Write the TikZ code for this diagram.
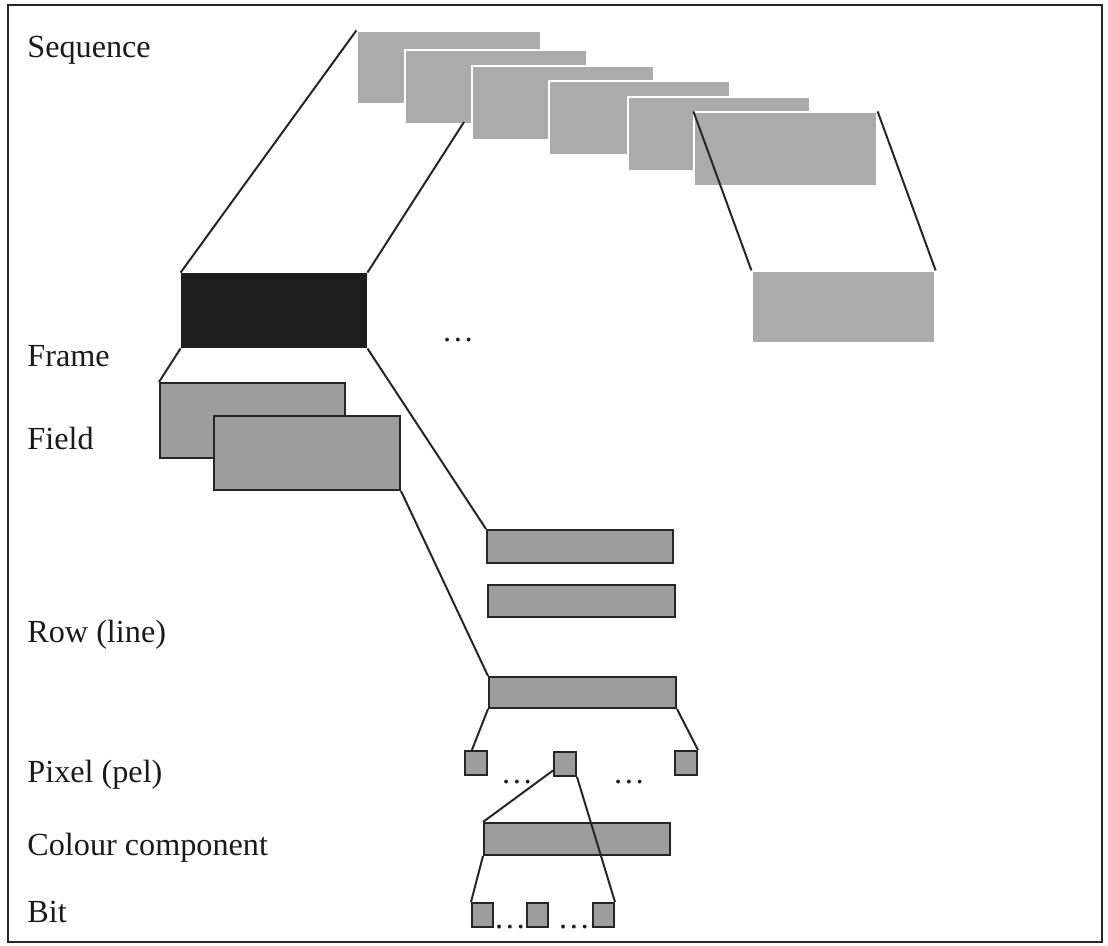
\documentclass[tikz,border=0pt]{standalone}
\usepackage{fontspec}
\setmainfont{Liberation Serif}
\usetikzlibrary{fit,calc}
\definecolor{seqgray}{HTML}{ABABAB}
\definecolor{boxgray}{HTML}{9D9D9D}
\definecolor{edge}{HTML}{262626}
\definecolor{framebk}{HTML}{1E1E1E}
\definecolor{txt}{HTML}{1A1A1A}

\begin{document}
\begin{tikzpicture}[x=0.5pt,y=-0.5pt,
  lbl/.style={anchor=base west, inner sep=0, text=txt, font=\fontsize{16.1}{19}\selectfont},
  dots/.style={anchor=base, inner sep=0, text=txt, font=\fontsize{16.1}{19}\selectfont},
  seqframe/.style={fill=seqgray, draw=white, line width=0.6pt, inner sep=0},
  keyframe/.style={fill=framebk, inner sep=0},
  part/.style={fill=boxgray, draw=edge, line width=1pt, inner sep=0},
  link/.style={draw=edge, line width=1pt},
]
\useasboundingbox (0,0) rectangle (1108,946);
\draw[edge, line width=1.1pt] (8,5) rectangle (1102,942);

% level labels
\node[lbl] (lseq) at (27,58)  {Sequence};
\node[lbl] (lfrm) at (27,367) {Frame};
\node[lbl] (lfld) at (27,450) {Field};
\node[lbl] (lrow) at (27,642) {Row (line)};
\node[lbl] (lpix) at (27,782) {Pixel (pel)};
\node[lbl] (lcol) at (27,855) {Colour component};
\node[lbl] (lbit) at (27,922) {Bit};

% the sequence of frames
\node[seqframe, fit={(357,31) (541,104)}]  (s1) {};
\node[seqframe, fit={(405,50) (587,124)}]  (s2) {};
\coordinate (s2end) at (464,122);
\node[keyframe, fit={(181,273) (367,348)}] (fr) {};
\draw[link] (fr.north east) -- (s2end);
\node[seqframe, fit={(472,66) (654,140)}]  (s3) {};
\node[seqframe, fit={(549,81) (730,155)}]  (s4) {};
\node[seqframe, fit={(628,97) (810,171)}]  (s5) {};
\node[seqframe, fit={(694,112) (877,186)}] (s6) {};
\node[seqframe, fit={(752,271) (935,343)}] (s7) {};

\draw[link] (s1.north west) -- (fr.north west);
\draw[link] (s6.north west) -- (s7.north west);
\draw[link] (s6.north east) -- (s7.north east);
\node[dots] (fdots) at (458,342) {…};

% fields
\node[part, fit={(160,383) (345,458)}] (fd1) {};
\node[part, fit={(214,416) (400,490)}] (fd2) {};
\draw[link] (fr.south west) -- (fd1.north west);

% rows
\node[part, fit={(487,530) (673,563)}] (r1) {};
\node[part, fit={(488,585) (675,617)}] (r2) {};
\node[part, fit={(489,677) (676,708)}] (r3) {};
\draw[link] (fr.south east) -- (r1.north west);
\draw[link] (fd2.south east) -- (r3.north west);

% pixels
\node[part, fit={(465,751) (487,775)}] (p1) {};
\node[part, fit={(554,752) (576,776)}] (p2) {};
\node[part, fit={(675,751) (697,775)}] (p3) {};
\node[dots] (pd1) at (517,783) {…};
\node[dots] (pd2) at (629,783) {…};
\draw[link] (r3.south west) -- ($(p1.north west)!0.33!(p1.north east)$);
\draw[link] (r3.south east) -- (p3.north east);

% colour component
\node[part, fit={(484,823) (670,855)}] (cc) {};
\draw[link] ($(p2.south west)!0.25!(p2.north west)$) -- (cc.north west);

% bits
\node[part, fit={(472,903) (493,927)}] (b1) {};
\node[part, fit={(527,903) (548,927)}] (b2) {};
\node[part, fit={(593,903) (614,927)}] (b3) {};
\node[dots] (bd1) at (510,928) {…};
\node[dots] (bd2) at (574,928) {…};
\draw[link] (cc.south west) -- (b1.north west);
\draw[link] (p2.south east) -- (b3.north east);
\end{tikzpicture}
\end{document}
